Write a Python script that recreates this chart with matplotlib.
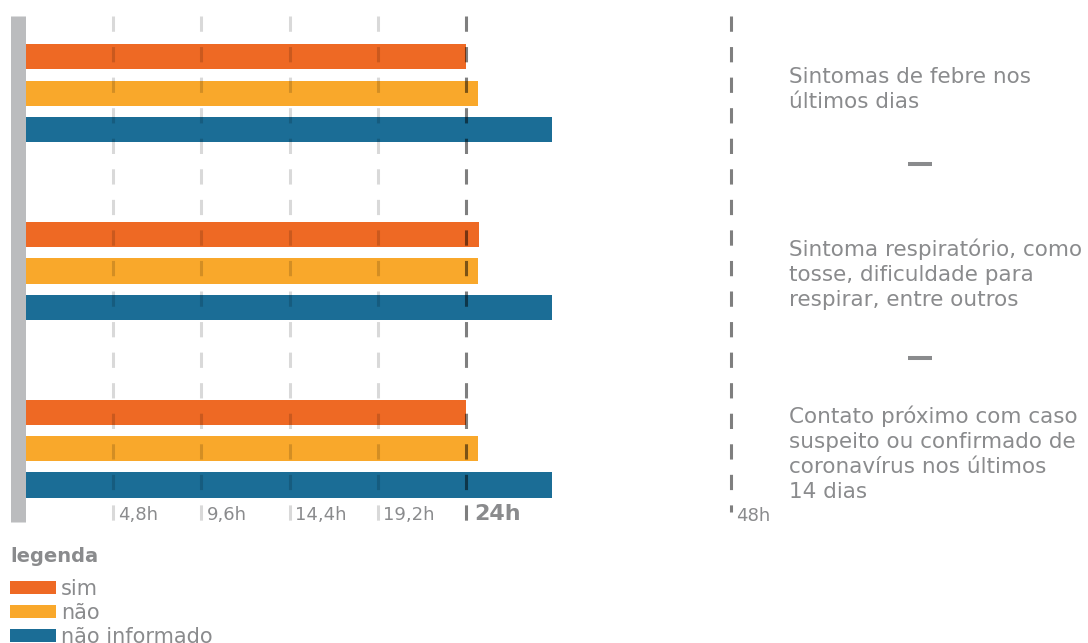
import numpy as np
import matplotlib
matplotlib.use('Agg')
import matplotlib.pyplot as plt
import matplotlib.transforms as mtransforms
from matplotlib.patches import Patch

plt.rcParams['font.family'] = ['DejaVu Sans']

# data (hours)
categories = [
    'Sintomas de febre nos\núltimos dias',
    'Sintoma respiratório, como\ntosse, dificuldade para\nrespirar, entre outros',
    'Contato próximo com caso\nsuspeito ou confirmado de\ncoronavírus nos últimos\n14 dias',
]
sim = [24.0, 25.2, 24.0]
nao = [25.1, 25.1, 25.1]
nao_informado = [31.8, 31.8, 31.8]
series_labels = ['sim', 'não', 'não informado']

grid_ticks = [4.8, 9.6, 14.4, 19.2]
grid_labels = ['4,8h', '9,6h', '14,4h', '19,2h']

colors = ['#ee6924', '#f9a82b', '#1b6d96']
text_gray = '#8a8b8d'

# axis is compressed after 24h (24h..48h takes less room)
SQUEEZE = 265 / 441


def fwd(x):
    x = np.asarray(x, dtype=float)
    return np.where(x <= 24, x, 24 + (x - 24) * SQUEEZE)


def inv(v):
    v = np.asarray(v, dtype=float)
    return np.where(v <= 24, v, 24 + (v - 24) / SQUEEZE)


W, H = 1088, 643
fig = plt.figure(figsize=(W / 100, H / 100), dpi=100)
ax = fig.add_axes([25 / W, 1 - 522 / H, 706 / W, 506 / H])
ax.set_xscale('function', functions=(fwd, inv))
ax.set_xlim(0, 48)
ax.set_ylim(2.413, -0.435)

y = np.arange(len(categories))
offset = 0.205
bar_h = 0.142
for vals, dy, c in zip([sim, nao, nao_informado], [-offset, 0, offset], colors):
    ax.barh(y + dy, vals, height=bar_h, color=c, zorder=2)

for s in ['top', 'right', 'bottom']:
    ax.spines[s].set_visible(False)
ax.spines['left'].set_linewidth(10.8)
ax.spines['left'].set_color('#bbbcbe')
ax.spines['left'].set_capstyle('butt')
ax.spines['left'].set_position(('outward', 5.4))
ax.set_xticks([])
ax.set_yticks([])

xt = ax.get_xaxis_transform()
dash = (0, (5, 5))
for t, lab in zip(grid_ticks, grid_labels):
    ax.plot([t, t], [1, 0], transform=xt, color='black', alpha=0.15,
            lw=2.2, linestyle=dash, zorder=3, clip_on=False)
    ax.annotate(lab, xy=(t, 0), xycoords=xt, xytext=(3.6, 1.5),
                textcoords='offset points', ha='left', va='baseline',
                fontsize=13, color=text_gray)

ax.plot([24, 24], [1, 0], transform=xt, color='black', alpha=0.5,
        lw=2.2, linestyle=dash, zorder=3, clip_on=False)
ax.annotate('24h', xy=(24, 0), xycoords=xt, xytext=(5.8, 1.5),
            textcoords='offset points', ha='left', va='baseline',
            fontsize=16, fontweight='bold', color=text_gray)

ax.plot([48, 48], [1, 0.02], transform=xt, color='black', alpha=0.5,
        lw=2.2, linestyle=dash, zorder=3, clip_on=False)
ax.annotate('48h', xy=(48, 0), xycoords=xt, xytext=(3.6, 0.5),
            textcoords='offset points', ha='left', va='baseline',
            fontsize=13, color=text_gray)

# category labels on the right
bt = mtransforms.blended_transform_factory(ax.transAxes, ax.transData)
for i, (cat, dy) in enumerate(zip(categories, [-0.02, 0.02, 0.03])):
    ax.text(1.082, i + dy, cat, transform=bt, ha='left', va='center',
            fontsize=15.5, color=text_gray, linespacing=1.32)
for sep in [0.40, 1.49]:
    ax.plot([1.2507, 1.2847], [sep, sep], transform=bt, color=text_gray,
            lw=2.9, solid_capstyle='butt', clip_on=False)

# legend
fig.text(10 / W, 1 - 556 / H, 'legenda', ha='left', va='center',
         fontsize=14, fontweight='bold', color=text_gray)
handles = [Patch(facecolor=c, edgecolor='none') for c in colors]
leg = fig.legend(handles, series_labels, loc='upper left',
                 bbox_to_anchor=(10 / W, 1 - 579 / H), frameon=False,
                 fontsize=15, labelcolor=text_gray,
                 handlelength=2.21, handleheight=0.625, handletextpad=0.24,
                 labelspacing=0.19, borderpad=0, borderaxespad=0)

fig.savefig('out.png', dpi=100)
